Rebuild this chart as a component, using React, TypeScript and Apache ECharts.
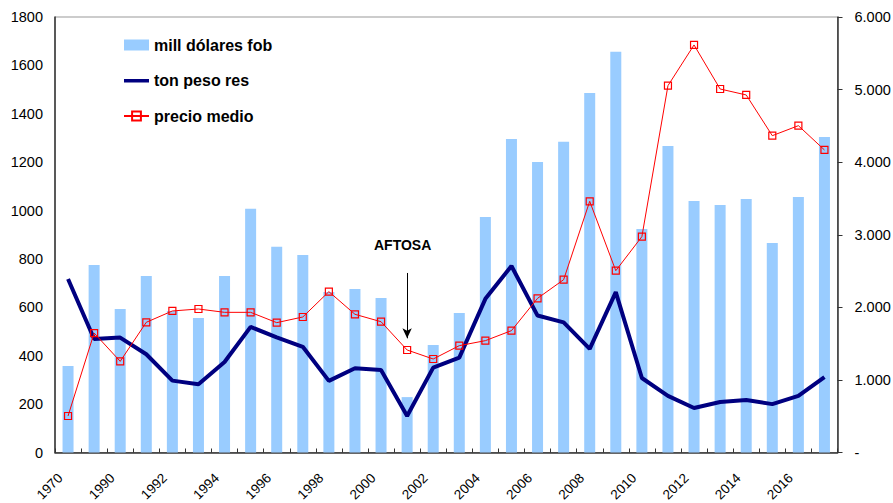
import React, { useEffect, useRef } from 'react';
import * as echarts from 'echarts';

const years = ['1970', '1980', '1990', '1991', '1992', '1993', '1994', '1995', '1996', '1997', '1998', '1999', '2000', '2001', '2002', '2003', '2004', '2005', '2006', '2007', '2008', '2009', '2010', '2011', '2012', '2013', '2014', '2015', '2016', '2017'];
const millDolaresFob = [358, 775, 593, 730, 585, 556, 730, 1007, 850, 816, 663, 676, 639, 229, 444, 577, 973, 1296, 1201, 1284, 1486, 1656, 924, 1267, 1040, 1023, 1048, 866, 1056, 1304];
const tonPesoRes = [717, 469, 475, 406, 297, 282, 374, 519, 476, 437, 296, 348, 341, 151, 351, 392, 635, 771, 566, 538, 428, 663, 308, 234, 184, 209, 217, 200, 234, 312];
const precioMedio = [503, 1646, 1256, 1794, 1950, 1977, 1931, 1931, 1789, 1867, 2216, 1904, 1802, 1412, 1288, 1472, 1541, 1679, 2124, 2381, 3461, 2505, 2974, 5054, 5615, 5008, 4926, 4365, 4503, 4168];
const seriesNames = ['mill dólares fob', 'ton peso res', 'precio medio'];
const annotationYear = '2001';
const annotationText = 'AFTOSA';
const arrowFrom = 742;
const arrowTo = 472;

const FONT = '"Liberation Sans", Arial, sans-serif';

export default function App() {
  const ref = useRef<HTMLDivElement>(null);
  useEffect(() => {
    if (!ref.current) return;
    const chart = echarts.init(ref.current, undefined, { renderer: 'svg' });
    chart.setOption({
      animation: false,
      backgroundColor: '#fff',
      textStyle: { fontFamily: FONT },
      grid: {
        left: 55, right: 55.5, top: 17, bottom: 50.5,
        containLabel: false, outerBoundsMode: 'none',
        show: true, borderColor: '#999', borderWidth: 1, backgroundColor: 'transparent',
      },
      legend: {
        orient: 'vertical',
        left: 118,
        top: 32,
        itemGap: 19.5,
        itemWidth: 25,
        itemHeight: 11,
        textStyle: { fontFamily: FONT, fontWeight: 'bold', fontSize: 16, color: '#000' },
        data: [
          { name: seriesNames[0], icon: 'rect' },
          { name: seriesNames[1], icon: 'path://M0,0 L0,0 M0,11 L0,11 M0,4 L25,4 L25,7.5 L0,7.5 Z' },
          { name: seriesNames[2] },
        ],
      },
      xAxis: {
        type: 'category',
        data: years,
        boundaryGap: true,
        axisLine: { lineStyle: { color: '#333', width: 1.5 } },
        axisTick: { show: true, inside: true, length: 4, interval: 0, lineStyle: { color: '#333' } },
        axisLabel: { interval: 1, rotate: 45, fontSize: 13.5, color: '#000', fontFamily: FONT, margin: 15.5, padding: [0, 11, 0, 0] },
        splitLine: { show: false },
      },
      yAxis: [
        {
          type: 'value',
          min: 0,
          max: 1800,
          interval: 200,
          axisLine: { show: true, lineStyle: { color: '#333', width: 1.5 } },
          axisTick: { show: false },
          axisLabel: { fontSize: 14.5, color: '#000', fontFamily: FONT, margin: 12, formatter: (v: number) => String(v) },
          splitLine: { show: false },
        },
        {
          type: 'value',
          min: 0,
          max: 6000,
          interval: 1000,
          position: 'right',
          axisLine: { show: true, lineStyle: { color: '#333', width: 1.5 } },
          axisTick: { show: true, length: 5, lineStyle: { color: '#333' } },
          axisLabel: {
            fontSize: 14.5,
            color: '#000',
            fontFamily: FONT,
            margin: 17,
            formatter: (v: number) => (v === 0 ? '-' : `${v / 1000}.000`),
          },
          splitLine: { show: false },
        },
      ],
      series: [
        {
          name: seriesNames[0],
          type: 'bar',
          yAxisIndex: 0,
          data: millDolaresFob,
          barWidth: 11,
          itemStyle: { color: '#99CCFF' },
          markLine: {
            silent: true,
            symbol: ['none', 'arrow'],
            symbolSize: [7, 10],
            lineStyle: { color: '#000', width: 1, type: 'solid' },
            label: { show: false },
            data: [[{ coord: [annotationYear, arrowFrom] }, { coord: [annotationYear, arrowTo] }]],
          },
        },
        {
          name: seriesNames[1],
          type: 'line',
          yAxisIndex: 0,
          data: tonPesoRes,
          symbol: 'none',
          lineStyle: { color: '#000080', width: 4 },
          itemStyle: { color: '#000080' },
        },
        {
          name: seriesNames[2],
          type: 'line',
          yAxisIndex: 1,
          data: precioMedio,
          symbol: 'rect',
          symbolSize: 7,
          lineStyle: { color: '#FF0000', width: 1 },
          itemStyle: { color: 'rgba(255,255,255,0)', borderColor: '#FF0000', borderWidth: 1.2 },
        },
      ],
      graphic: [
        {
          type: 'text',
          left: 374,
          top: 238,
          style: { text: annotationText, fontFamily: FONT, fontWeight: 'bold', fontSize: 14, fill: '#000' },
        },
      ],
    });
    return () => chart.dispose();
  }, []);
  return <div ref={ref} style={{ position: 'absolute', left: 0, top: 0, width: 893, height: 503 }} />;
}
